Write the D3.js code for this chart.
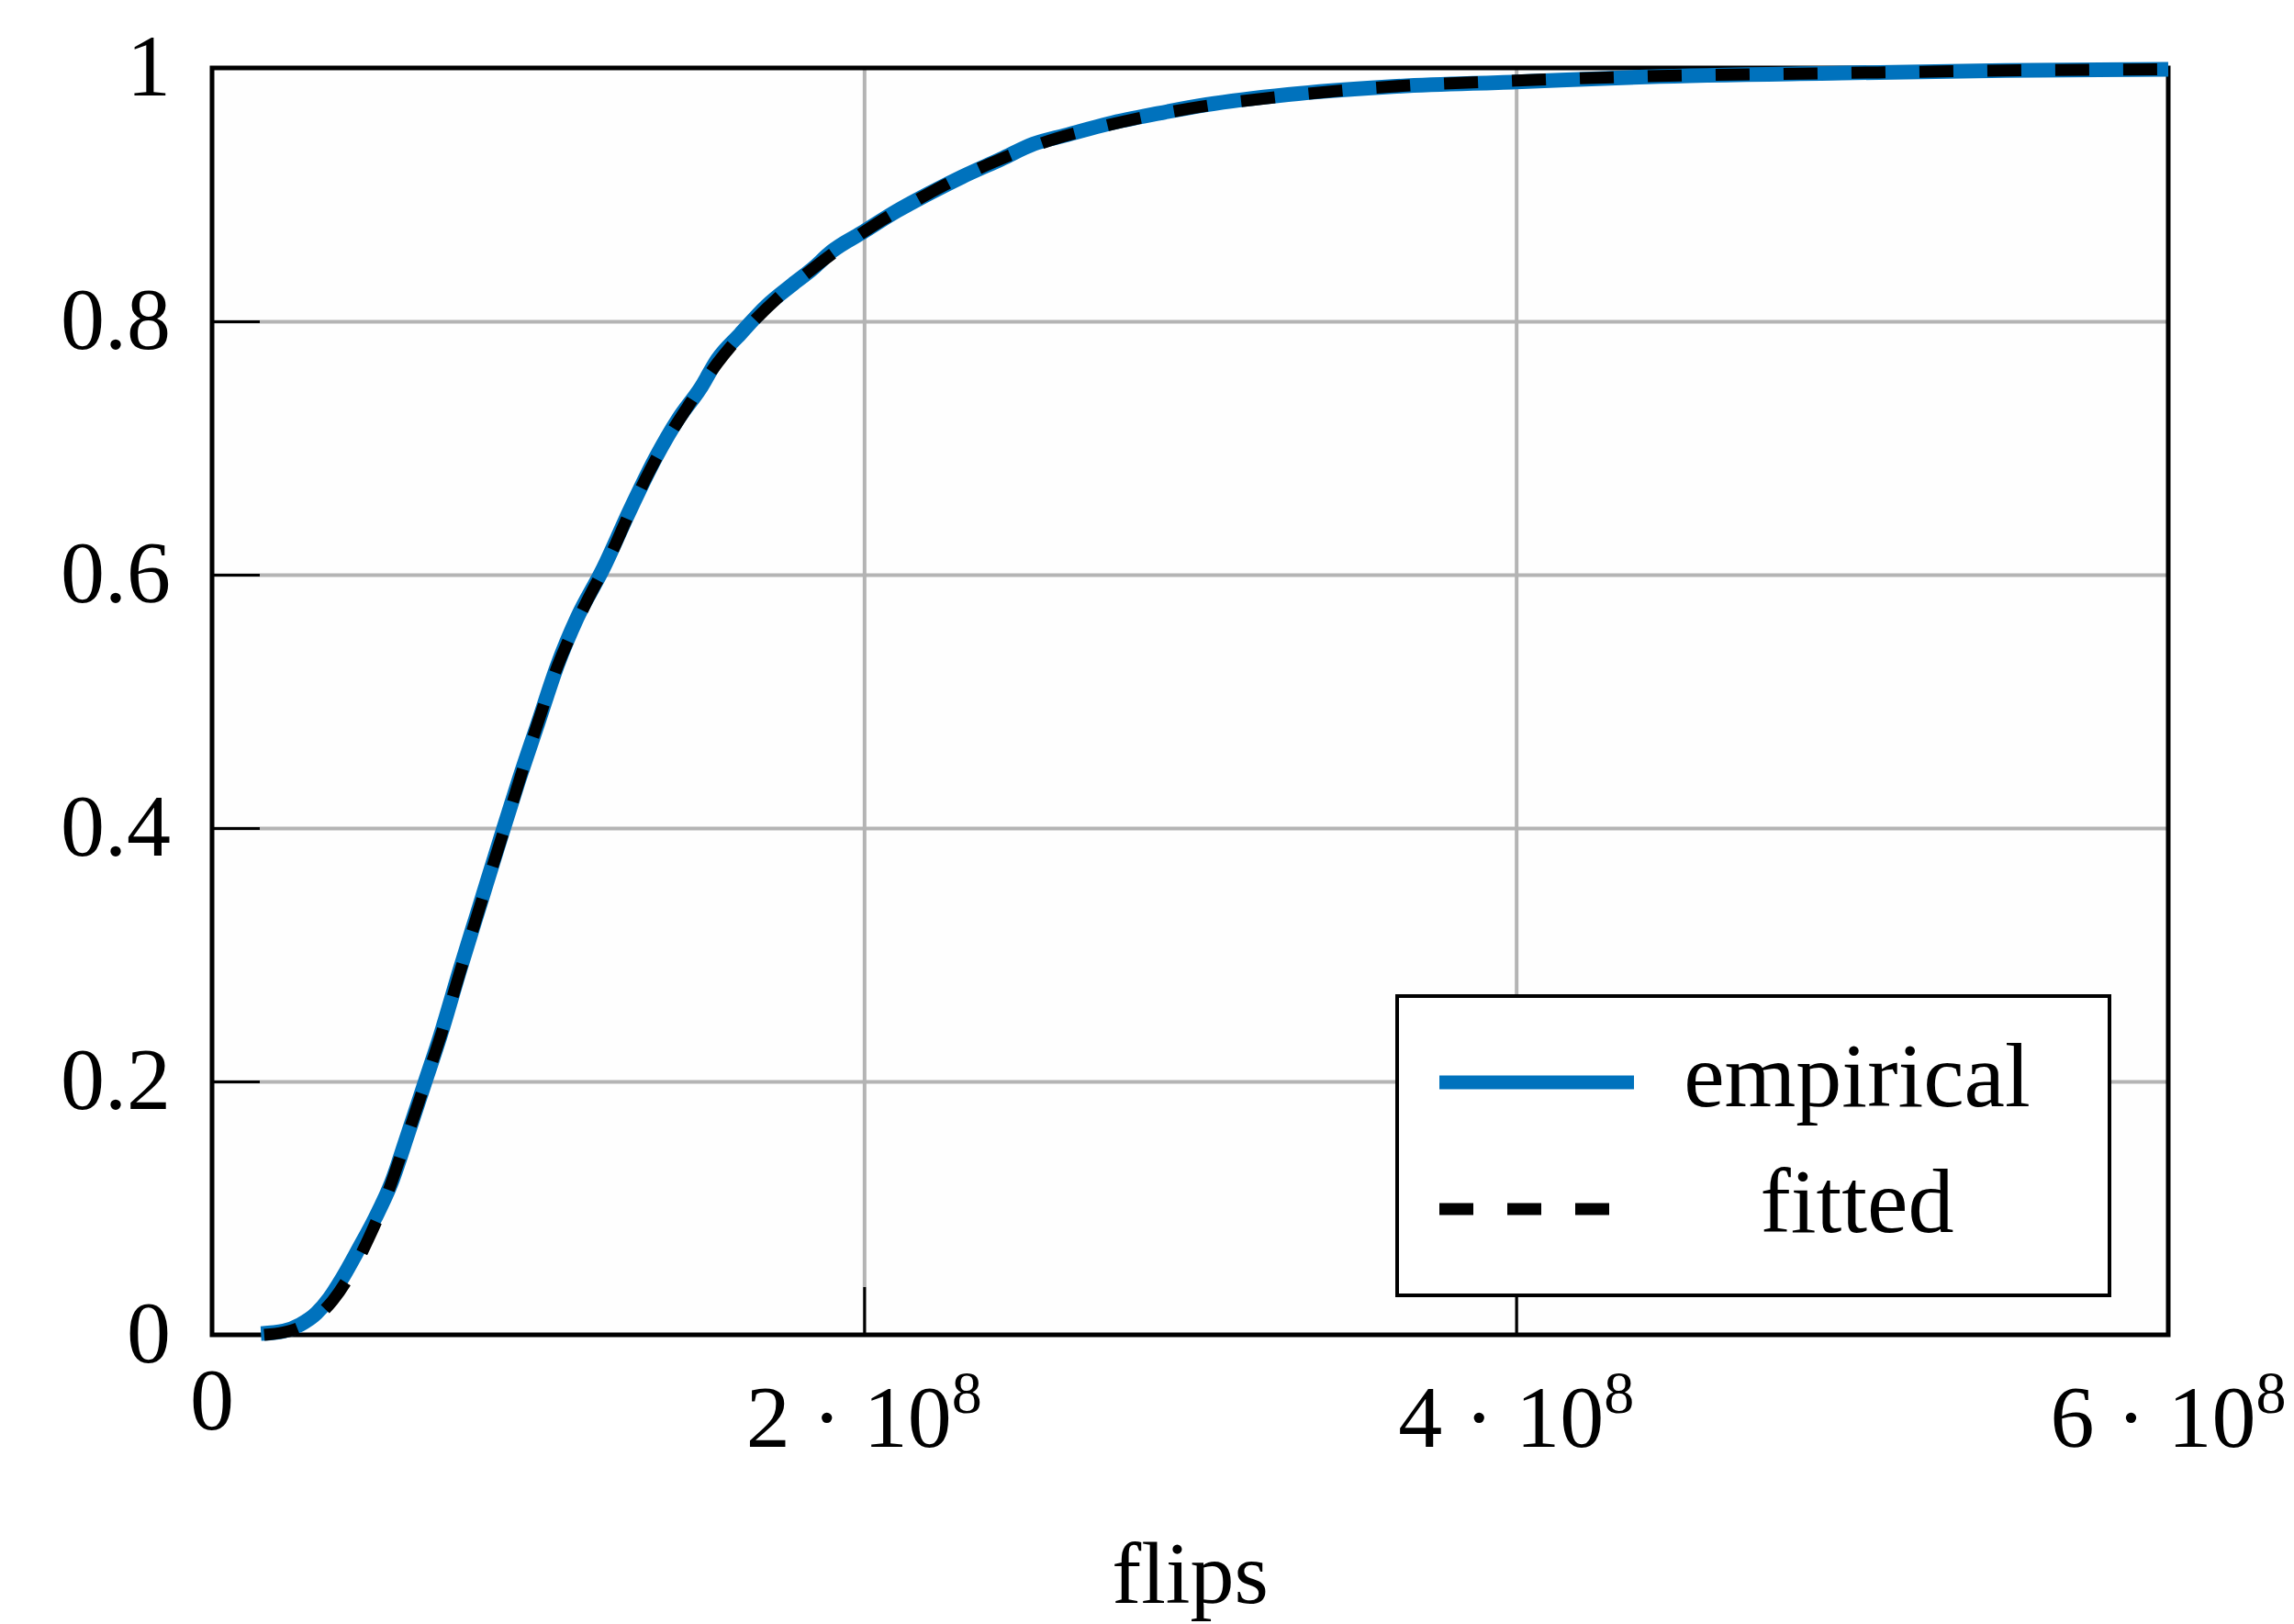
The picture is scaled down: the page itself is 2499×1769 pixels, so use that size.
<!DOCTYPE html>
<html>
<head>
<meta charset="utf-8">
<script src="https://cdn.jsdelivr.net/npm/d3@7"></script>
<style>
    body { margin: 0; background: #fff; }
    text { font-family: "Liberation Serif", "DejaVu Serif", serif; fill: #000; }
</style>
</head>
<body>
<div id="chart"></div>
<script>
// empirical CDF of flips
var empFlips = [0.15e8, 0.22e8, 0.27e8, 0.32e8, 0.36e8, 0.40e8, 0.45e8, 0.50e8, 0.55e8, 0.60e8,
    0.65e8, 0.70e8, 0.76e8, 0.82e8, 0.88e8, 0.94e8, 1.00e8, 1.06e8, 1.12e8, 1.20e8,
    1.28e8, 1.36e8, 1.43e8, 1.50e8, 1.55e8, 1.62e8, 1.70e8, 1.78e8, 1.84e8, 1.90e8,
    2.00e8, 2.10e8, 2.20e8, 2.30e8, 2.42e8, 2.52e8, 2.62e8, 2.75e8, 2.90e8, 3.05e8,
    3.30e8, 3.60e8, 4.00e8, 4.40e8, 5.00e8, 5.50e8, 6.00e8];
var empFrac = [0.001, 0.003, 0.008, 0.017, 0.029, 0.045, 0.068, 0.092, 0.120, 0.158,
    0.197, 0.236, 0.288, 0.338, 0.388, 0.437, 0.483, 0.529, 0.566, 0.605,
    0.650, 0.692, 0.723, 0.748, 0.770, 0.790, 0.812, 0.829, 0.841, 0.855,
    0.871, 0.887, 0.901, 0.914, 0.928, 0.940, 0.947, 0.956, 0.964, 0.971,
    0.979, 0.985, 0.989, 0.993, 0.996, 0.998, 0.999];

// fitted distribution
var fitFlips = [0.16e8, 0.22e8, 0.27e8, 0.32e8, 0.37e8, 0.42e8, 0.48e8, 0.53e8, 0.59e8, 0.65e8,
    0.71e8, 0.76e8, 0.83e8, 0.90e8, 0.98e8, 1.06e8, 1.14e8, 1.22e8, 1.30e8, 1.38e8,
    1.46e8, 1.55e8, 1.65e8, 1.75e8, 1.85e8, 1.95e8, 2.05e8, 2.15e8, 2.25e8, 2.40e8,
    2.55e8, 2.75e8, 3.00e8, 3.30e8, 3.60e8, 4.00e8, 4.50e8, 5.00e8, 5.50e8, 6.00e8];
var fitFrac = [0.000, 0.002, 0.006, 0.014, 0.027, 0.046, 0.076, 0.106, 0.150, 0.196,
    0.243, 0.286, 0.345, 0.402, 0.468, 0.528, 0.574, 0.614, 0.660, 0.700,
    0.733, 0.767, 0.797, 0.822, 0.843, 0.862, 0.879, 0.894, 0.908, 0.926,
    0.941, 0.955, 0.968, 0.978, 0.985, 0.990, 0.994, 0.996, 0.998, 0.999];

var xTicks = [0, 2e8, 4e8, 6e8];
var xTickBase = ["0", "2 \u00b7 10", "4 \u00b7 10", "6 \u00b7 10"];
var xTickExp = ["", "8", "8", "8"];
var yTicks = [0, 0.2, 0.4, 0.6, 0.8, 1];
var yTickLabels = ["0", "0.2", "0.4", "0.6", "0.8", "1"];
var seriesNames = ["empirical", "fitted"];

var W = 2499, H = 1769;
var plotL = 231, plotR = 2362, plotT = 74, plotB = 1454;
var blue = "#0072bd";

var svg = d3.select("#chart").append("svg")
    .attr("width", W)
    .attr("height", H);

var x = d3.scaleLinear().domain([0, 6e8]).range([plotL, plotR]);
var y = d3.scaleLinear().domain([0, 1]).range([plotB, plotT]);

svg.append("rect")
    .attr("x", plotL).attr("y", plotT)
    .attr("width", plotR - plotL).attr("height", plotB - plotT)
    .attr("fill", "#fefefe");

// grid
var gridY = svg.append("g")
    .attr("transform", "translate(" + plotL + ",0)")
    .call(d3.axisLeft(y).tickValues([0.2, 0.4, 0.6, 0.8]).tickSize(-(plotR - plotL)).tickFormat(""));
var gridX = svg.append("g")
    .attr("transform", "translate(0," + plotB + ")")
    .call(d3.axisBottom(x).tickValues([2e8, 4e8]).tickSize(-(plotB - plotT)).tickFormat(""));
[gridY, gridX].forEach(function (g) {
    g.select(".domain").remove();
    g.selectAll("line").attr("stroke", "#b4b4b4").attr("stroke-width", 4);
});

// ticks pointing inwards
var axY = svg.append("g")
    .attr("transform", "translate(" + plotL + ",0)")
    .call(d3.axisLeft(y).tickValues(yTicks).tickSize(-52).tickPadding(45)
        .tickFormat(function (d, i) { return yTickLabels[i]; }));
var axX = svg.append("g")
    .attr("transform", "translate(0," + plotB + ")")
    .call(d3.axisBottom(x).tickValues(xTicks).tickSize(-52).tickFormat(""));
[axY, axX].forEach(function (g) {
    g.select(".domain").remove();
    g.selectAll("line").attr("stroke", "#000").attr("stroke-width", 3);
});
axY.selectAll("text")
    .attr("dy", null)
    .attr("y", 29)
    .attr("fill", "#000")
    .style("font-size", "96px")
    .style("font-family", "Liberation Serif");

// x tick labels with exponent
var xl = svg.append("g").selectAll("text")
    .data(xTicks)
    .enter().append("text")
    .attr("x", function (d) { return x(d); })
    .attr("y", function (d, i) { return xTickExp[i] ? 1576 : 1557; })
    .attr("text-anchor", "middle")
    .style("font-size", "96px");
xl.append("tspan").text(function (d, i) { return xTickBase[i]; });
xl.append("tspan")
    .attr("dy", -37)
    .style("font-size", "66px")
    .text(function (d, i) { return xTickExp[i]; });

// frame
svg.append("rect")
    .attr("x", plotL).attr("y", plotT)
    .attr("width", plotR - plotL).attr("height", plotB - plotT)
    .attr("fill", "none")
    .attr("stroke", "#000")
    .attr("stroke-width", 5);

svg.append("text")
    .attr("x", (plotL + plotR) / 2)
    .attr("y", 1746)
    .attr("text-anchor", "middle")
    .style("font-size", "96px")
    .text("flips");

// curves
var line = d3.line()
    .x(function (d) { return x(d[0]); })
    .y(function (d) { return y(d[1]); })
    .curve(d3.curveMonotoneX);

svg.append("path")
    .datum(d3.zip(empFlips, empFrac))
    .attr("d", line)
    .attr("fill", "none")
    .attr("stroke", blue)
    .attr("stroke-width", 16)
    .attr("stroke-linejoin", "round");

svg.append("path")
    .datum(d3.zip(fitFlips, fitFrac))
    .attr("d", line)
    .attr("fill", "none")
    .attr("stroke", "#000")
    .attr("stroke-width", 13)
    .attr("stroke-dasharray", "37,37");

// legend
var legend = svg.append("g");
legend.append("rect")
    .attr("x", 1522).attr("y", 1085)
    .attr("width", 2298 - 1522).attr("height", 1411 - 1085)
    .attr("fill", "#fff")
    .attr("stroke", "#000")
    .attr("stroke-width", 4);
legend.append("line")
    .attr("x1", 1568).attr("x2", 1780)
    .attr("y1", 1179).attr("y2", 1179)
    .attr("stroke", blue).attr("stroke-width", 15);
legend.append("line")
    .attr("x1", 1568).attr("x2", 1780)
    .attr("y1", 1317).attr("y2", 1317)
    .attr("stroke", "#000").attr("stroke-width", 13)
    .attr("stroke-dasharray", "37,37");
legend.selectAll(".lab")
    .data(seriesNames)
    .enter().append("text")
    .attr("class", "lab")
    .attr("x", 2023)
    .attr("y", function (d, i) { return i ? 1342 : 1205; })
    .attr("text-anchor", "middle")
    .style("font-size", "100px")
    .text(function (d) { return d; });
</script>
</body>
</html>
